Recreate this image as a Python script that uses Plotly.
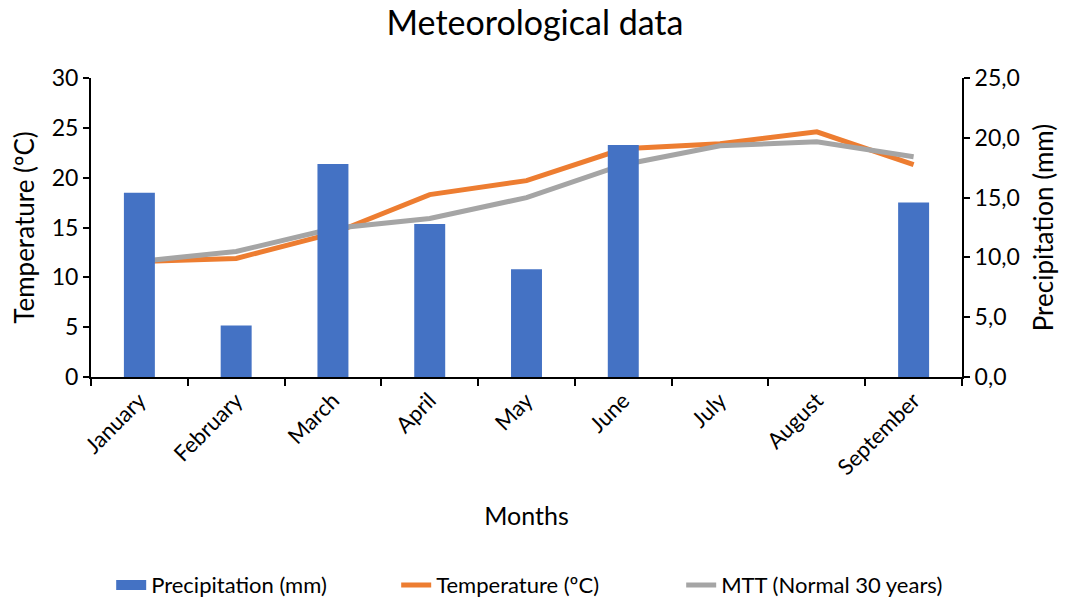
import plotly.graph_objects as go

months = ["January", "February", "March", "April", "May", "June", "July", "August", "September"]
precipitation = [15.4, 4.3, 17.8, 12.8, 9.0, 19.4, 0, 0, 14.6]
temperature = [11.6, 11.9, 14.4, 18.3, 19.7, 22.9, 23.4, 24.6, 21.3]
mtt_normal = [11.6, 12.6, 14.9, 15.9, 18.0, 21.3, 23.2, 23.6, 22.1]

left_ticks = [0, 5, 10, 15, 20, 25, 30]
right_ticks = [0, 5, 10, 15, 20, 25]
right_ticktext = ["0,0", "5,0", "10,0", "15,0", "20,0", "25,0"]

FONT = "Lato"
BLUE = "#4472C4"

fig = go.Figure()
fig.add_trace(go.Bar(x=months, y=precipitation, name="Precipitation (mm)", showlegend=False,
                     marker=dict(color=BLUE, line=dict(width=0)), yaxis="y2"))
# legend entry styled like the wide rectangle swatch
fig.add_trace(go.Scatter(x=[None], y=[None], name="Precipitation (mm)", mode="lines",
                         line=dict(color=BLUE, width=13), yaxis="y2"))
fig.add_trace(go.Scatter(x=months, y=temperature, name="Temperature (ºC)", mode="lines",
                         line=dict(color="#ED7D31", width=5)))
fig.add_trace(go.Scatter(x=months, y=mtt_normal, name="MTT (Normal 30 years)", mode="lines",
                         line=dict(color="#A5A5A5", width=5)))

fig.update_layout(
    width=1070, height=601,
    margin=dict(l=91, r=108, t=78, b=224, autoexpand=False),
    paper_bgcolor="white", plot_bgcolor="white",
    font=dict(family=FONT, color="#000000", size=23),
    title=dict(text="Meteorological data", x=0.5, xanchor="center", y=0.962, yanchor="middle",
               font=dict(size=34, family=FONT, color="#000000")),
    bargap=0.68,
    showlegend=True,
    legend=dict(orientation="h", x=0.514, xanchor="center", y=-0.696, yanchor="middle",
                font=dict(size=22), traceorder="normal",
                entrywidth=240, entrywidthmode="pixels"),
    xaxis=dict(type="category", showline=True, linecolor="#000", linewidth=2,
               ticks="outside", tickson="boundaries", ticklen=7, tickwidth=2, tickcolor="#000",
               tickangle=-45, tickfont=dict(size=22), showgrid=False,
               title=dict(text="Months", font=dict(size=25), standoff=28)),
    yaxis=dict(range=[0, 30], tickvals=left_ticks, showline=True, linecolor="#000", linewidth=2,
               ticks="outside", ticklen=6, tickwidth=2, tickcolor="#000", showgrid=False,
               zeroline=False, tickfont=dict(size=23),
               title=dict(text="Temperature (ºC)", font=dict(size=26), standoff=10)),
    yaxis2=dict(range=[0, 25], tickvals=right_ticks, ticktext=right_ticktext, overlaying="y",
                side="right", showline=True, linecolor="#000", linewidth=2,
                ticks="outside", ticklen=6, tickwidth=2, tickcolor="#000", showgrid=False,
                zeroline=False, tickfont=dict(size=23),
                title=dict(text="Precipitation (mm)", font=dict(size=26), standoff=16)),
)

fig.write_html("out.html")
